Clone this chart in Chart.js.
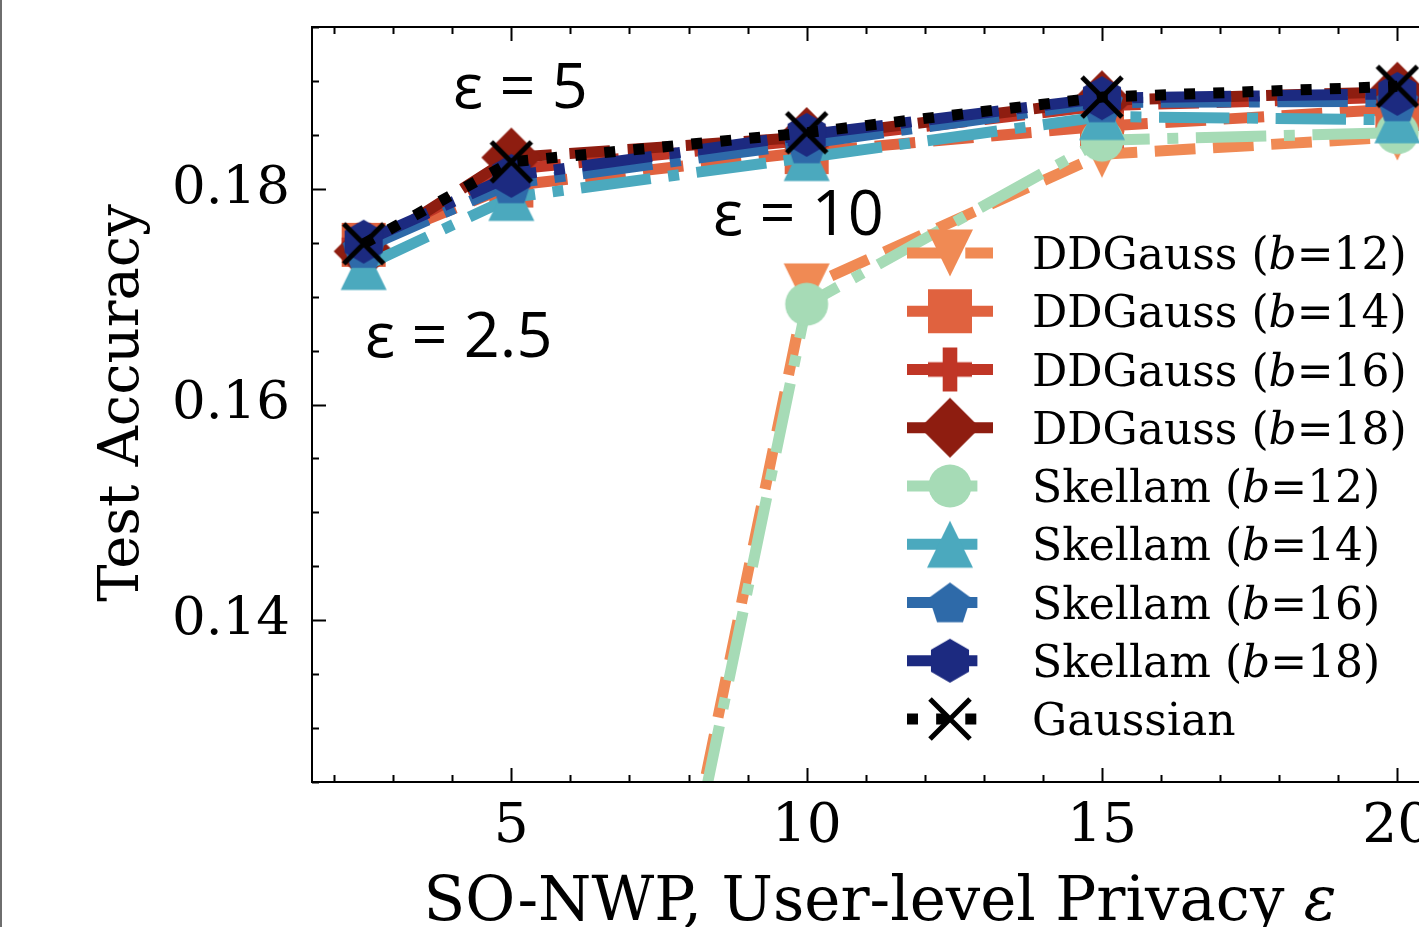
<!DOCTYPE html>
<html>
<head>
<meta charset="utf-8">
<script src="https://cdn.jsdelivr.net/npm/chart.js@4.4.0/dist/chart.umd.min.js"></script>
<style>
  html, body { margin: 0; padding: 0; background: #fff; overflow: hidden; }
  #wrap { position: relative; width: 1419px; height: 927px; overflow: hidden; }
  #chart { position: absolute; left: 0; top: 0; width: 1500px; height: 927px; }
</style>
</head>
<body>
<div id="wrap"><canvas id="chart" width="1500" height="927"></canvas></div>
<script>
// privacy budgets on the x axis
const epsilons = [2.5, 5, 10, 15, 20];

// test accuracy per mechanism (b = bit width)
const ddgauss12 = [0.012, 0.038, 0.1709, 0.1832, 0.1848];
const ddgauss14 = [0.1748, 0.1803, 0.1834, 0.1858, 0.1874];
const ddgauss16 = [0.1748, 0.1818, 0.1845, 0.1877, 0.1885];
const ddgauss18 = [0.1742, 0.1829, 0.1848, 0.1882, 0.1890];
const skellam12 = [0.010, 0.037, 0.1693, 0.1845, 0.1852];
const skellam14 = [0.1728, 0.1792, 0.1829, 0.1867, 0.1864];
const skellam16 = [0.1745, 0.1805, 0.1842, 0.1880, 0.1881];
const skellam18 = [0.1751, 0.1812, 0.1850, 0.1884, 0.1888];
const gaussian  = [0.1749, 0.1825, 0.1852, 0.1885, 0.1895];

const xTicks = [5, 10, 15, 20];
const yTicks = [0.14, 0.16, 0.18];

const SERIF = '"DejaVu Serif", serif';

// marker images, sized like the matplotlib markers
function mk(w, h, draw) {
  const c = document.createElement('canvas');
  c.width = w; c.height = h;
  const g = c.getContext('2d');
  draw(g, w / 2, h / 2);
  return c;
}
function poly(g, pts, col) {
  g.fillStyle = col;
  g.beginPath();
  pts.forEach((p, i) => i ? g.lineTo(p[0], p[1]) : g.moveTo(p[0], p[1]));
  g.closePath();
  g.fill();
}
function regular(cx, cy, n, r, start) {
  const pts = [];
  for (let i = 0; i < n; i++) {
    const a = start + i * 2 * Math.PI / n;
    pts.push([cx + r * Math.cos(a), cy + r * Math.sin(a)]);
  }
  return pts;
}
const shapes = {
  triDown: col => mk(50, 50, g => poly(g, [[2, 1.5], [48, 1.5], [25, 48.5]], col)),
  triUp: col => mk(50, 50, g => poly(g, [[25, 1.5], [48, 48.5], [2, 48.5]], col)),
  square: col => mk(50, 50, g => { g.fillStyle = col; g.fillRect(3, 3, 44, 44); }),
  plus: col => mk(50, 50, g => {
    g.fillStyle = col;
    g.fillRect(3, 25 - 7.3, 44, 14.6);
    g.fillRect(25 - 7.3, 3, 14.6, 44);
  }),
  diamond: col => mk(62, 62, g => poly(g, [[31, 1], [61, 31], [31, 61], [1, 31]], col)),
  circle: col => mk(50, 50, g => {
    g.fillStyle = col; g.beginPath(); g.arc(25, 25, 21.5, 0, Math.PI * 2); g.fill();
  }),
  pentagon: col => mk(50, 50, g => poly(g, regular(25, 27, 5, 22, -Math.PI / 2), col)),
  hexagon: col => mk(50, 50, g => poly(g, regular(25, 25, 6, 22, -Math.PI / 2), col)),
  cross: col => mk(50, 50, g => {
    g.strokeStyle = col; g.lineWidth = 5; g.lineCap = 'butt';
    g.beginPath();
    g.moveTo(5, 5); g.lineTo(45, 45);
    g.moveTo(45, 5); g.lineTo(5, 45);
    g.stroke();
  })
};

const LW = 11;
const dashed = [3.7 * LW, 1.6 * LW];
const dashdot = [6.4 * LW, 1.6 * LW, 1 * LW, 1.6 * LW];
const dotted = [1 * LW, 1.65 * LW];

const seriesDefs = [
  { name: 'DDGauss', bits: 12, data: ddgauss12, color: '#f08a54', shape: 'triDown', dash: dashed },
  { name: 'DDGauss', bits: 14, data: ddgauss14, color: '#e0623f', shape: 'square', dash: dashed },
  { name: 'DDGauss', bits: 16, data: ddgauss16, color: '#c03626', shape: 'plus', dash: dashed },
  { name: 'DDGauss', bits: 18, data: ddgauss18, color: '#8e1d10', shape: 'diamond', dash: dashed },
  { name: 'Skellam', bits: 12, data: skellam12, color: '#a6dbb6', shape: 'circle', dash: dashdot },
  { name: 'Skellam', bits: 14, data: skellam14, color: '#4ba9be', shape: 'triUp', dash: dashdot },
  { name: 'Skellam', bits: 16, data: skellam16, color: '#2e6aa9', shape: 'pentagon', dash: dashdot },
  { name: 'Skellam', bits: 18, data: skellam18, color: '#1c2a80', shape: 'hexagon', dash: dashdot },
  { name: 'Gaussian', bits: null, data: gaussian, color: '#000000', shape: 'cross', dash: dotted }
];
seriesDefs.forEach(s => { s.marker = shapes[s.shape](s.color); });

const datasets = seriesDefs.map((s, i) => ({
  label: s.bits ? s.name + ' (b=' + s.bits + ')' : s.name,
  data: epsilons.map((x, j) => ({ x: x, y: s.data[j] })),
  borderColor: s.color,
  backgroundColor: s.color,
  borderWidth: LW,
  borderDash: s.dash,
  borderCapStyle: 'butt',
  borderJoinStyle: 'round',
  pointStyle: s.marker,
  pointRadius: 1,
  pointHoverRadius: 1,
  pointBorderWidth: 0,
  tension: 0,
  order: seriesDefs.length - i
}));

// frame, inward ticks, legend, annotations and axis titles
const decor = {
  id: 'decor',
  afterDatasetsDraw(chart) {
    const ctx = chart.ctx;
    const a = chart.chartArea;
    const xs = chart.scales.x, ys = chart.scales.y;
    ctx.save();
    ctx.strokeStyle = '#000';
    ctx.lineWidth = 2;
    ctx.strokeRect(a.left, a.top, a.right - a.left, a.bottom - a.top);

    ctx.lineWidth = 2;
    ctx.beginPath();
    for (let v = 2; v <= 20; v++) {
      const px = Math.round(xs.getPixelForValue(v)) + 0.5;
      const len = v % 5 === 0 ? 14 : 7;
      ctx.moveTo(px, a.bottom); ctx.lineTo(px, a.bottom - len);
      ctx.moveTo(px, a.top); ctx.lineTo(px, a.top + len);
    }
    for (let k = 25; k <= 39; k++) {
      const v = k * 0.005;
      const py = Math.round(ys.getPixelForValue(v)) + 0.5;
      const len = k % 4 === 0 ? 14 : 7;
      ctx.moveTo(a.left, py); ctx.lineTo(a.left + len, py);
      ctx.moveTo(a.right, py); ctx.lineTo(a.right - len, py);
    }
    ctx.stroke();

    // annotations
    ctx.fillStyle = '#000';
    ctx.textBaseline = 'alphabetic';
    ctx.textAlign = 'left';
    ctx.font = '63px "Open Sans", sans-serif';
    ctx.fillText('ε = 5', 453, 108);
    ctx.fillText('ε = 10', 713, 235);
    ctx.fillText('ε = 2.5', 365, 357);

    // legend
    const rowY0 = 253, rowStep = 58.25;
    seriesDefs.forEach((s, i) => {
      const cy = rowY0 + i * rowStep;
      ctx.save();
      ctx.strokeStyle = s.color;
      ctx.lineWidth = LW;
      ctx.lineCap = 'butt';
      ctx.setLineDash(s.dash);
      ctx.beginPath();
      ctx.moveTo(907, cy); ctx.lineTo(993, cy);
      ctx.stroke();
      ctx.restore();
      ctx.drawImage(s.marker, 950 - s.marker.width / 2, cy - s.marker.height / 2);
      let x = 1032;
      const runs = s.bits
        ? [[s.name + ' (', ''], ['b', 'italic '], ['=' + s.bits + ')', '']]
        : [[s.name, '']];
      runs.forEach(r => {
        ctx.font = r[1] + '44px ' + SERIF;
        ctx.fillText(r[0], x, cy + 16);
        x += ctx.measureText(r[0]).width;
      });
    });

    // x title
    const xt = [['SO-NWP, User-level Privacy ', ''], ['ε', 'italic ']];
    const xFont = '61px ' + SERIF;
    let w = 0;
    xt.forEach(r => { ctx.font = r[1] + xFont; w += ctx.measureText(r[0]).width; });
    let x = 880 - w / 2;
    xt.forEach(r => {
      ctx.font = r[1] + xFont;
      ctx.fillText(r[0], x, 920);
      x += ctx.measureText(r[0]).width;
    });

    // y title
    ctx.save();
    ctx.translate(138, 403);
    ctx.rotate(-Math.PI / 2);
    ctx.textAlign = 'center';
    ctx.font = '56px ' + SERIF;
    ctx.fillText('Test Accuracy', 0, 0);
    ctx.restore();

    // page edge
    ctx.fillStyle = '#6e6e6e';
    ctx.fillRect(0, 0, 2, chart.height);
    ctx.restore();
  }
};

new Chart(document.getElementById('chart'), {
  type: 'line',
  data: { datasets: datasets },
  options: {
    responsive: false,
    animation: false,
    events: [],
    layout: { padding: { top: 27, right: 51, left: 0, bottom: 0 } },
    plugins: { legend: { display: false }, tooltip: { enabled: false } },
    scales: {
      x: {
        type: 'linear',
        min: 1.625,
        max: 20.875,
        afterBuildTicks: s => { s.ticks = xTicks.map(v => ({ value: v })); },
        afterFit: s => { s.height = 145; },
        grid: { display: false, drawTicks: false },
        border: { display: false },
        ticks: {
          color: '#000',
          padding: 13,
          maxRotation: 0,
          font: { family: SERIF, size: 55, lineHeight: 1.2 },
          callback: v => String(v)
        }
      },
      y: {
        type: 'linear',
        min: 0.125,
        max: 0.195,
        afterBuildTicks: s => { s.ticks = yTicks.map(v => ({ value: v })); },
        afterFit: s => { s.width = 312; s.paddingTop = 0; s.paddingBottom = 0; },
        grid: { display: false, drawTicks: false },
        border: { display: false },
        ticks: {
          color: '#000',
          padding: 22,
          font: { family: SERIF, size: 53 },
          callback: v => v.toFixed(2)
        }
      }
    }
  },
  plugins: [decor]
});
</script>
</body>
</html>
